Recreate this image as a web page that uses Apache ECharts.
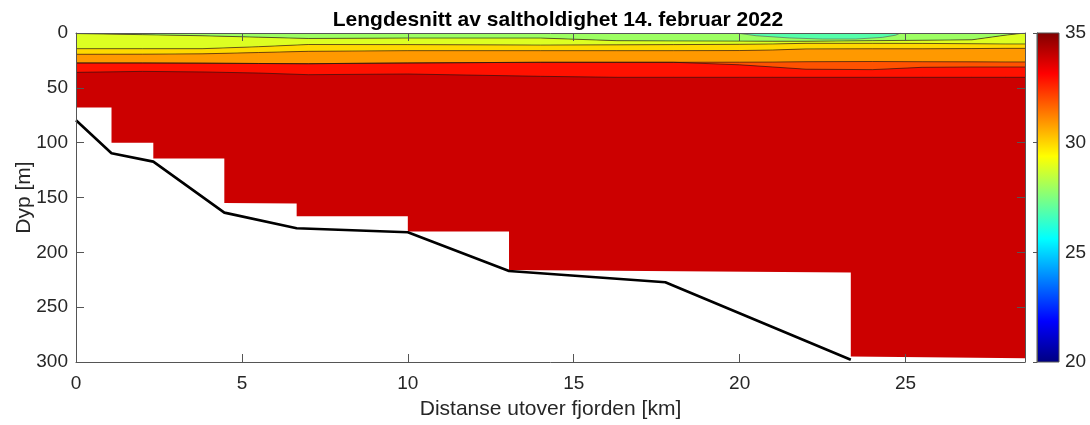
<!DOCTYPE html>
<html>
<head>
<meta charset="utf-8">
<script src="https://cdn.jsdelivr.net/npm/echarts@6/dist/echarts.min.js"></script>
<style>
  html, body { margin: 0; padding: 0; background: #fff; }
  #chart { width: 1090px; height: 425px; }
</style>
</head>
<body>
<div id="chart"></div>
<script>
// bunnprofil (svart linje)
const bottomX = [0, 1.07, 2.33, 4.47, 6.65, 10.0, 13.05, 17.76, 23.35];
const bottomDepth = [79.5, 109.7, 117.3, 163.8, 178, 181.7, 217, 227.3, 298];

// nedre kant av datafeltet (trappetrinn)
const edgeX = [0, 1.07, 1.07, 2.33, 2.33, 4.47, 4.47, 6.65, 6.65, 10.0, 10.0, 13.05, 13.05, 23.35, 23.35, 28.6];
const edgeDepth = [68, 68, 100, 100, 114.5, 114.5, 155, 155.5, 167, 167, 181, 181, 216, 218.5, 295, 296.5];

// konturlinjer (dybde i m) langs fjorden
const cx     = [0,    2,    3.8,  5.5,  7,    10,   14,   16.3, 18,   20,   21,   22,   24,   25.5, 27,   28,   28.6];
const line28 = [0.5,  1.5,  2.5,  3.8,  5,    4.6,  4.6,  7,    7.2,  7.4,  7.5,  7.5,  7,    6.6,  6.2,  2,    0];
const line29 = [14.3, 14.3, 14.3, 12.5, 10.5, 10.6, 11,   10.8, 10.6, 10.3, 10,   9.4,  9.4,  9.5,  9.8,  10,   10];
const line30 = [19.4, 19.3, 19,   17.8, 16.7, 16.1, 16.1, 16.1, 16.1, 16,   15.5, 14.5, 14.4, 14.4, 14.2, 14,   14];
const line31 = [27.3, 27.3, 27.5, 27.8, 28,   27.3, 26.7, 26.7, 26.7, 26.6, 26.5, 26.2, 26,   26.2, 26.3, 26.4, 26.4];
const line32 = [27.3, 27.3, 27.5, 27.8, 28,   27.3, 26.7, 26.7, 26.7, 29,   31,   33,   33.4, 31.3, 31,   31,   31];
const line33 = [35.9, 35,   35.5, 36.5, 38,   37.4, 39.5, 40.4, 40.4, 40.4, 40.4, 40.4, 40.4, 40.4, 40.4, 40.4, 40.4];

// lomme med ferskere vann (27) i overflaten
const patchX     = [19.9, 20.5, 21.5, 22.5, 23.5, 24.3, 24.7, 24.85];
const patchDepth = [0,    2.5,  4.5,  5.5,  5.5,  4,    2,    0];

const xMax = 28.6;
const cbTicks = [20, 25, 30, 35];

const pts = (xs, ds) => xs.map((x, i) => [x, ds[i]]);
const zeros = cx.map(() => 0);
const band = (upper, lower) => pts(cx, upper).concat(pts(cx, lower).reverse());

const fields = [
  { color: "#cc0000", poly: [[0, 0], [xMax, 0]].concat(pts(edgeX, edgeDepth).reverse()) },
  { color: "#ff1100", poly: band(line32, line33) },
  { color: "#ff5200", poly: band(line31, line32) },
  { color: "#ff9900", poly: band(line30, line31) },
  { color: "#ffd800", poly: band(line29, line30) },
  { color: "#ddff22", poly: band(line28, line29) },
  { color: "#9dff62", poly: band(zeros, line28) },
  { color: "#55ffaa", poly: pts(patchX, patchDepth) },
];

const contourSeries = [line28, line29, line30, line31, line32, line33].map((d) => ({
  type: "line",
  data: pts(cx, d),
  symbol: "none",
  silent: true,
  z: 3,
  lineStyle: { color: "#111", width: 0.7, opacity: 0.85 },
}));

const font = "'Liberation Sans', Arial, sans-serif";
const textCol = "#262626";

var chart = echarts.init(document.getElementById("chart"));
const option = {
  animation: false,
  title: {
    text: "Lengdesnitt av saltholdighet 14. februar 2022",
    left: 553,
    top: 5,
    textAlign: "center",
    textStyle: { fontFamily: font, fontSize: 21, fontWeight: "bold", color: "#000" },
  },
  grid: [
    { left: 76, right: 65, top: 33, bottom: 63, outerBoundsMode: "none" },
    { left: 1037, width: 22, top: 33, bottom: 63, outerBoundsMode: "none" },
  ],
  xAxis: [
    {
      type: "value",
      min: 0,
      max: xMax,
      interval: 5,
      z: 10,
      name: "Distanse utover fjorden [km]",
      nameLocation: "middle",
      nameGap: 37,
      nameMoveOverlap: false,
      nameTextStyle: { fontFamily: font, fontSize: 21, color: textCol },
      axisLine: { show: true, onZero: false, lineStyle: { color: "#555", width: 1 } },
      axisTick: { show: true, inside: true, length: 8, lineStyle: { color: "#555" } },
      axisLabel: { fontFamily: font, fontSize: 19, color: textCol, margin: 12, showMaxLabel: false },
      splitLine: { show: false },
    },
    {
      type: "value",
      min: 0,
      max: xMax,
      interval: 5,
      position: "top",
      z: 10,
      axisLine: { show: true, onZero: false, lineStyle: { color: "#555", width: 1 } },
      axisTick: { show: true, inside: true, length: 8, lineStyle: { color: "#555" } },
      axisLabel: { show: false },
      splitLine: { show: false },
    },
    { type: "value", gridIndex: 1, min: 0, max: 1, show: false },
  ],
  yAxis: [
    {
      type: "value",
      inverse: true,
      min: 0,
      max: 300,
      interval: 50,
      z: 10,
      name: "Dyp [m]",
      nameLocation: "middle",
      nameGap: 41,
      nameMoveOverlap: false,
      nameTextStyle: { fontFamily: font, fontSize: 21, color: textCol },
      axisLine: { show: true, onZero: false, lineStyle: { color: "#555", width: 1 } },
      axisTick: { show: true, inside: true, length: 8, lineStyle: { color: "#555" } },
      axisLabel: { fontFamily: font, fontSize: 19, color: textCol, margin: 8 },
      splitLine: { show: false },
    },
    {
      type: "value",
      inverse: true,
      min: 0,
      max: 300,
      interval: 50,
      position: "right",
      z: 10,
      axisLine: { show: true, onZero: false, lineStyle: { color: "#555", width: 1 } },
      axisTick: { show: true, inside: true, length: 8, lineStyle: { color: "#555" } },
      axisLabel: { show: false },
      splitLine: { show: false },
    },
    {
      type: "value",
      gridIndex: 1,
      min: cbTicks[0],
      max: cbTicks[cbTicks.length - 1],
      interval: 5,
      position: "right",
      z: 10,
      axisLine: { show: true, lineStyle: { color: "#555", width: 1 } },
      axisTick: { show: true, inside: true, length: 4, lineStyle: { color: "#555" } },
      axisLabel: { fontFamily: font, fontSize: 19, color: textCol, margin: 6 },
      splitLine: { show: false },
    },
  ],
  series: [
    {
      type: "custom",
      silent: true,
      clip: true,
      z: 1,
      data: fields.map((f, i) => [i, 0]),
      renderItem: function (params, api) {
        const f = fields[params.dataIndex];
        return {
          type: "polygon",
          shape: { points: f.poly.map((p) => api.coord(p)) },
          style: { fill: f.color, stroke: null },
        };
      },
    },
    {
      type: "line",
      data: pts(patchX, patchDepth),
      symbol: "none",
      silent: true,
      z: 3,
      lineStyle: { color: "#555", width: 0.6 },
    },
    ...contourSeries,
    {
      type: "line",
      data: pts(bottomX, bottomDepth),
      symbol: "none",
      silent: true,
      z: 4,
      lineStyle: { color: "#000", width: 2.6 },
    },
    {
      type: "custom",
      xAxisIndex: 2,
      yAxisIndex: 2,
      silent: true,
      data: [[0, cbTicks[0]]],
      renderItem: function (params, api) {
        const a = api.coord([0, cbTicks[cbTicks.length - 1]]);
        const b = api.coord([1, cbTicks[0]]);
        return {
          type: "rect",
          shape: { x: a[0], y: a[1], width: b[0] - a[0], height: b[1] - a[1] },
          style: {
            fill: new echarts.graphic.LinearGradient(0, 0, 0, 1, [
              { offset: 0, color: "#800000" },
              { offset: 0.125, color: "#ff0000" },
              { offset: 0.375, color: "#ffff00" },
              { offset: 0.625, color: "#00ffff" },
              { offset: 0.875, color: "#0000ff" },
              { offset: 1, color: "#000080" },
            ]),
            stroke: "#555",
            lineWidth: 1,
          },
        };
      },
    },
  ],
};
chart.setOption(option);
</script>
</body>
</html>
